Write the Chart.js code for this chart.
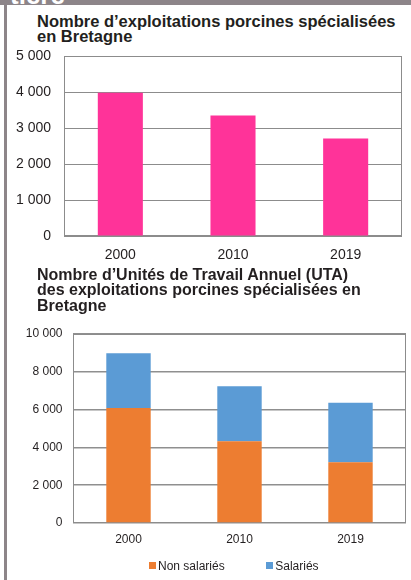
<!DOCTYPE html>
<html><head><meta charset="utf-8">
<script src="https://cdn.jsdelivr.net/npm/chart.js@4"></script>
<style>
html,body{margin:0;padding:0;background:#fff;}
body{width:411px;height:580px;overflow:hidden;position:relative;font-family:"Liberation Sans",Arial,sans-serif;}
#band{position:absolute;left:0;top:0;width:411px;height:5px;background:#8d8589;overflow:hidden;}
#band span{position:absolute;left:10px;top:-18px;font-weight:bold;font-size:26px;line-height:26px;color:#fff;}
#rail{position:absolute;left:4px;top:0;width:3px;height:580px;background:#8d8589;}
.title{position:absolute;left:37px;font-weight:bold;color:#231f20;white-space:nowrap;}
#t1{top:13.5px;font-size:16.5px;line-height:15px;}
#t2{top:266.5px;font-size:16px;line-height:15.8px;}
#c1{position:absolute;left:0;top:26px;}
#c2{position:absolute;left:0;top:314px;}
#lg{position:absolute;left:149px;top:558.7px;display:flex;gap:41.5px;font-size:12px;line-height:14px;color:#231f20;white-space:nowrap;}
#lg .li{display:flex;align-items:center;}
#lg .sw{display:inline-block;width:7px;height:7px;margin-right:2px;}
</style></head>
<body>
<div id="band"><span>tière</span></div>
<div id="rail"></div>
<div class="title" id="t1">Nombre d’exploitations porcines spécialisées<br>en Bretagne</div>
<canvas id="c1" width="411" height="242"></canvas>
<div class="title" id="t2">Nombre d’Unités de Travail Annuel (UTA)<br>des exploitations porcines spécialisées en<br>Bretagne</div>
<canvas id="c2" width="411" height="239"></canvas>
<div id="lg"></div>
<script>
const years = ['2000', '2010', '2019'];
const exploitations = [3980, 3350, 2710];
const nonSalaries = [6090, 4320, 3210];
const salaries = [2890, 2920, 3150];
const yTicks1 = ['0', '1 000', '2 000', '3 000', '4 000', '5 000'];
const yTicks2 = ['0', '2 000', '4 000', '6 000', '8 000', '10 000'];
const seriesNames = ['Non salariés', 'Salariés'];

Chart.defaults.font.family = "'Liberation Sans', Arial, sans-serif";
Chart.defaults.color = '#231f20';

const framePlugin = {
  id: 'frame',
  beforeDatasetsDraw(chart, args, opts) {
    const {ctx, chartArea: a} = chart;
    ctx.save();
    ctx.strokeStyle = opts.color || '#8c8c8c';
    ctx.lineWidth = opts.width || 1;
    const l = Math.round(a.left) + 0.5, t = Math.round(a.top) + 0.5;
    const r = Math.round(a.right) - 0.5, b = Math.round(a.bottom) - 0.5;
    ctx.strokeRect(l, t, r - l, b - t);
    ctx.restore();
  }
};

const htmlLegend = {
  id: 'htmlLegend',
  afterUpdate(chart, args, opts) {
    const box = document.getElementById(opts.containerID);
    box.innerHTML = '';
    chart.data.datasets.forEach(ds => {
      const li = document.createElement('span'); li.className = 'li';
      const sw = document.createElement('span'); sw.className = 'sw'; sw.style.background = ds.backgroundColor;
      const tx = document.createElement('span'); tx.textContent = ds.label;
      li.append(sw, tx); box.append(li);
    });
  }
};

new Chart(document.getElementById('c1'), {
  type: 'bar',
  data: {
    labels: years,
    datasets: [{label: 'Exploitations', data: exploitations, backgroundColor: '#ff3399', borderWidth: 0,
      barPercentage: 0.4, categoryPercentage: 1}]
  },
  options: {
    responsive: false, animation: false,
    layout: {padding: {top: 30, right: 9, left: 0, bottom: 0}},
    plugins: {legend: {display: false}, tooltip: {enabled: false}, frame: {color: '#8c8c8c', width: 1}},
    scales: {
      x: {grid: {display: false, drawTicks: false}, border: {display: false},
        ticks: {font: {size: 14}, padding: 11, maxRotation: 0},
        afterFit(s) { s.height = 32; }},
      y: {min: 0, max: 5000, border: {display: false},
        grid: {color: '#8c8c8c', drawTicks: false, lineWidth: 1},
        ticks: {stepSize: 1000, font: {size: 14}, padding: 13, callback: (v, i) => yTicks1[i]},
        afterFit(s) { s.width = 64; }}
    }
  },
  plugins: [framePlugin]
});

new Chart(document.getElementById('c2'), {
  type: 'bar',
  data: {
    labels: years,
    datasets: [
      {label: seriesNames[0], data: nonSalaries, backgroundColor: '#ed7d31', borderWidth: 0, barPercentage: 0.4, categoryPercentage: 1},
      {label: seriesNames[1], data: salaries, backgroundColor: '#5b9bd5', borderWidth: 0, barPercentage: 0.4, categoryPercentage: 1}
    ]
  },
  options: {
    responsive: false, animation: false,
    layout: {padding: {top: 20, right: 5, left: 0, bottom: 0}},
    plugins: {
      legend: {display: false},
      htmlLegend: {containerID: 'lg'},
      tooltip: {enabled: false},
      frame: {color: '#8c8c8c', width: 1}
    },
    scales: {
      x: {stacked: true, grid: {display: false, drawTicks: false}, border: {display: false},
        ticks: {font: {size: 12}, padding: 9, maxRotation: 0},
        afterFit(s) { s.height = 30; }},
      y: {stacked: true, min: 0, max: 10000, border: {display: false},
        grid: {color: '#8f8f8f', drawTicks: false, lineWidth: 1.5},
        ticks: {stepSize: 2000, font: {size: 12}, padding: 10.5, callback: (v, i) => yTicks2[i]},
        afterFit(s) { s.width = 73; }}
    }
  },
  plugins: [framePlugin, htmlLegend]
});
</script>
</body></html>
